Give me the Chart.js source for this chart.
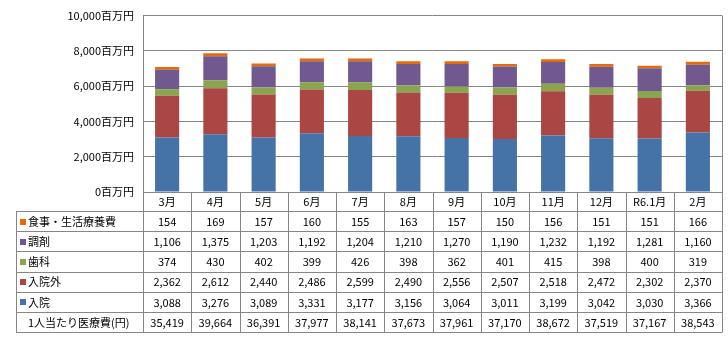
<!DOCTYPE html>
<html>
<head>
<meta charset="utf-8">
<script src="https://cdn.jsdelivr.net/npm/chart.js@4/dist/chart.umd.min.js"></script>
<style>
  body { margin: 0; background: #fff; }
  #wrap { width: 728px; height: 351px; }
</style>
</head>
<body>
<div id="wrap"><canvas id="myChart" width="728" height="351"></canvas></div>
<script>
// data block
const labels = ["3月", "4月", "5月", "6月", "7月", "8月", "9月", "10月", "11月", "12月", "R6.1月", "2月"];
const meal = [154, 169, 157, 160, 155, 163, 157, 150, 156, 151, 151, 166];
const dispensing = [1106, 1375, 1203, 1192, 1204, 1210, 1270, 1190, 1232, 1192, 1281, 1160];
const dental = [374, 430, 402, 399, 426, 398, 362, 401, 415, 398, 400, 319];
const outpatient = [2362, 2612, 2440, 2486, 2599, 2490, 2556, 2507, 2518, 2472, 2302, 2370];
const inpatient = [3088, 3276, 3089, 3331, 3177, 3156, 3064, 3011, 3199, 3042, 3030, 3366];
const perCapita = [35419, 39664, 36391, 37977, 38141, 37673, 37961, 37170, 38672, 37519, 37167, 38543];

const FONT = '"Noto Sans CJK JP", "Noto Sans", sans-serif';
const lineColor = "#868686";

const data = {
  labels: labels,
  datasets: [
    { label: "入院", data: inpatient, backgroundColor: "#4572A7" },
    { label: "入院外", data: outpatient, backgroundColor: "#AA4643" },
    { label: "歯科", data: dental, backgroundColor: "#89A54E" },
    { label: "調剤", data: dispensing, backgroundColor: "#71588F" },
    { label: "食事・生活療養費", data: meal, backgroundColor: "#E46C0A" },
  ],
};

// table rows, top to bottom (dataset index or null for the per-capita row)
const tableRows = [4, 3, 2, 1, 0, null];

// plugin - draws the data table under the bars
const tablePlugin = {
  id: "dataTable",
  afterDraw(chart) {
    const { ctx, chartArea } = chart;
    const xs = chart.scales.x;
    const n = labels.length;
    const colW = (chartArea.right - chartArea.left) / n;
    const top = chartArea.bottom;
    const headH = 19;
    const rowH = 20.2;
    const tableLeft = 16;
    const bottom = top + headH + rowH * tableRows.length;
    const px = (v) => Math.round(v) + 0.5;

    ctx.save();
    ctx.strokeStyle = lineColor;
    ctx.lineWidth = 1;
    ctx.beginPath();
    // left and right borders of plot + table
    ctx.moveTo(px(chartArea.left), chartArea.top);
    ctx.lineTo(px(chartArea.left), px(bottom));
    ctx.moveTo(px(chartArea.right), chartArea.top);
    ctx.lineTo(px(chartArea.right), px(bottom));
    // column separators
    for (let i = 1; i < n; i++) {
      const x = px(chartArea.left + colW * i);
      ctx.moveTo(x, px(top));
      ctx.lineTo(x, px(bottom));
    }
    // header row line
    ctx.moveTo(chartArea.left, px(top));
    ctx.lineTo(chartArea.right, px(top));
    // table rows
    for (let r = 0; r <= tableRows.length; r++) {
      const y = px(top + headH + rowH * r);
      ctx.moveTo(tableLeft, y);
      ctx.lineTo(chartArea.right, y);
    }
    ctx.moveTo(px(tableLeft), px(top + headH));
    ctx.lineTo(px(tableLeft), px(bottom));
    ctx.stroke();

    ctx.font = "11px " + FONT;
    ctx.fillStyle = "#000";
    ctx.textAlign = "center";
    ctx.textBaseline = "middle";
    labels.forEach((lab, i) => {
      ctx.fillText(lab, xs.getPixelForValue(i), top + headH / 2 + 0.5);
    });

    tableRows.forEach((di, r) => {
      const cy = top + headH + rowH * r + rowH / 2 + 0.5;
      let name, vals;
      if (di === null) {
        name = "1人当たり医療費(円)";
        vals = perCapita;
      } else {
        const ds = chart.data.datasets[di];
        name = ds.label;
        vals = ds.data;
        ctx.fillStyle = ds.backgroundColor;
        ctx.fillRect(20, Math.round(cy) - 3, 6, 6);
      }
      ctx.fillStyle = "#000";
      ctx.textAlign = "left";
      ctx.fillText(name, 28, cy);
      ctx.textAlign = "center";
      vals.forEach((v, i) => {
        ctx.fillText(v.toLocaleString("en-US"), xs.getPixelForValue(i), cy);
      });
    });
    ctx.restore();
  },
};

// config block
const config = {
  type: "bar",
  data: data,
  options: {
    responsive: false,
    animation: false,
    devicePixelRatio: 1,
    layout: { padding: { left: 0, right: 6, top: 10, bottom: 159 } },
    datasets: { bar: { categoryPercentage: 1, barPercentage: 0.5 } },
    plugins: { legend: { display: false }, tooltip: { enabled: false } },
    scales: {
      x: { stacked: true, display: false },
      y: {
        stacked: true,
        min: 0,
        max: 10000,
        afterFit: (scale) => { scale.width = 143; },
        border: { display: false },
        grid: { color: lineColor, drawTicks: false },
        ticks: {
          stepSize: 2000,
          padding: 9,
          color: "#000",
          font: { family: FONT, size: 11 },
          callback: (v) => v.toLocaleString("en-US") + "百万円",
        },
      },
    },
  },
  plugins: [tablePlugin],
};

// render init block
const myChart = new Chart(document.getElementById("myChart"), config);
</script>
</body>
</html>
